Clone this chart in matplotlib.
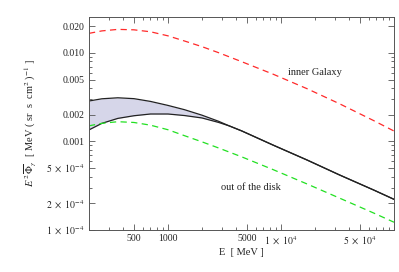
import numpy as np
import matplotlib
matplotlib.use('Agg')
import matplotlib.pyplot as plt
from matplotlib.ticker import FixedLocator, FixedFormatter, NullFormatter

plt.rcParams['font.family'] = ['Liberation Serif', 'DejaVu Serif']
plt.rcParams['mathtext.fontset'] = 'stix'

energy = [200, 260, 360, 500, 700, 1000, 1400, 2000, 2800, 4500, 8500, 17000, 33000, 66000, 100000]

# E^2 flux, inner Galaxy (red dashed)
inner_galaxy = [0.01660, 0.01770, 0.01841, 0.01820, 0.01730, 0.01556, 0.01361, 0.01175, 0.01005, 0.00794,
                0.00575, 0.00394, 0.00266, 0.00172, 0.00131]
# out of the disk (green dashed)
out_disk = [0.001500, 0.001601, 0.001670, 0.001637, 0.001526, 0.001355, 0.001161, 0.000989, 0.000844,
            0.000669, 0.000481, 0.000331, 0.000229, 0.0001556, 0.0001224]

# band (black, upper and lower edge)
band_energy = [200, 260, 360, 500, 700, 1000, 1400, 2000, 2800, 3500, 4500, 8500, 17000, 33000, 66000, 100000]
band_upper = [0.00286, 0.00303, 0.00311, 0.00304, 0.00283, 0.00255, 0.002282, 0.001978, 0.001689, 0.001494,
              0.001313, 9.1e-4, 6.17e-4, 4.18e-4, 2.83e-4, 2.22e-4]
band_lower = [0.00135, 0.00160, 0.00182, 0.00195, 0.00204, 0.00204, 0.00196, 0.00184, 0.00164, 0.001494,
              0.001313, 9.1e-4, 6.17e-4, 4.18e-4, 2.83e-4, 2.22e-4]

xticks = [500, 1000, 5000, 1e4, 5e4]
xticklabels = ['500', '1000', '5000', r'$1\ \times\ 10^{4}$', r'$5\ \times\ 10^{4}$']
yticks = [1e-4, 2e-4, 5e-4, 0.001, 0.002, 0.005, 0.010, 0.020]
yticklabels = [r'$1\ \times\ 10^{-4}$', r'$2\ \times\ 10^{-4}$', r'$5\ \times\ 10^{-4}$',
               '0.001', '0.002', '0.005', '0.010', '0.020']

fig = plt.figure(figsize=(3.99, 2.72), dpi=100)
ax = fig.add_axes([89/399, 42/272, 305/399, 213/272])

ax.fill_between(band_energy, band_lower, band_upper, color='#d6d6e9', lw=0)
ax.plot(band_energy, band_upper, color='#222222', lw=0.9)
ax.plot(band_energy, band_lower, color='#222222', lw=0.9)
ax.plot(energy, inner_galaxy, color='#ff2a2a', lw=0.9, dashes=(5, 3.5))
ax.plot(energy, out_disk, color='#22e022', lw=0.9, dashes=(5, 3.5))

ax.set_xscale('log')
ax.set_yscale('log')
ax.set_xlim(200, 1e5)
ax.set_ylim(1e-4, 0.0254)

# major / minor ticks like the original frame
ax.xaxis.set_major_locator(FixedLocator(xticks))
ax.xaxis.set_major_formatter(FixedFormatter(xticklabels))
xminor = [m * 10**d for d in range(2, 6) for m in range(1, 10)
          if m * 10**d not in xticks and 200 <= m * 10**d <= 1e5]
ax.xaxis.set_minor_locator(FixedLocator(xminor))
ax.xaxis.set_minor_formatter(NullFormatter())

ax.yaxis.set_major_locator(FixedLocator(yticks))
ax.yaxis.set_major_formatter(FixedFormatter(yticklabels))
yminor = [m * 10.0**d for d in range(-4, -1) for m in range(1, 10)
          if not any(abs(m * 10.0**d - t) < 1e-9 for t in yticks) and m * 10.0**d <= 0.025]
ax.yaxis.set_minor_locator(FixedLocator(yminor))
ax.yaxis.set_minor_formatter(NullFormatter())

ax.tick_params(which='both', direction='in', top=True, right=True, colors='#555555',
               labelcolor='#222222', labelsize=7, width=0.6)
ax.tick_params(which='major', length=4, pad=3)
ax.tick_params(which='minor', length=2)
for s in ax.spines.values():
    s.set_color('#555555')
    s.set_linewidth(0.7)

ax.text(2.0e4, 0.0060, 'inner Galaxy', fontsize=7.5, ha='center', va='center', color='#222222')
ax.text(5.4e3, 3.0e-4, 'out of the disk', fontsize=7.5, ha='center', va='center', color='#222222')

ax.set_xlabel('E  [ MeV ]', fontsize=7.5, color='#222222', labelpad=1)
ax.set_ylabel(r'$E^{\,2}\,\overline{\Phi}_{\gamma}$  [ MeV ( sr  s  cm$^2$ )$^{-1}$ ]',
              fontsize=7.5, color='#222222', labelpad=6)

fig.savefig('out.png', dpi=100)
